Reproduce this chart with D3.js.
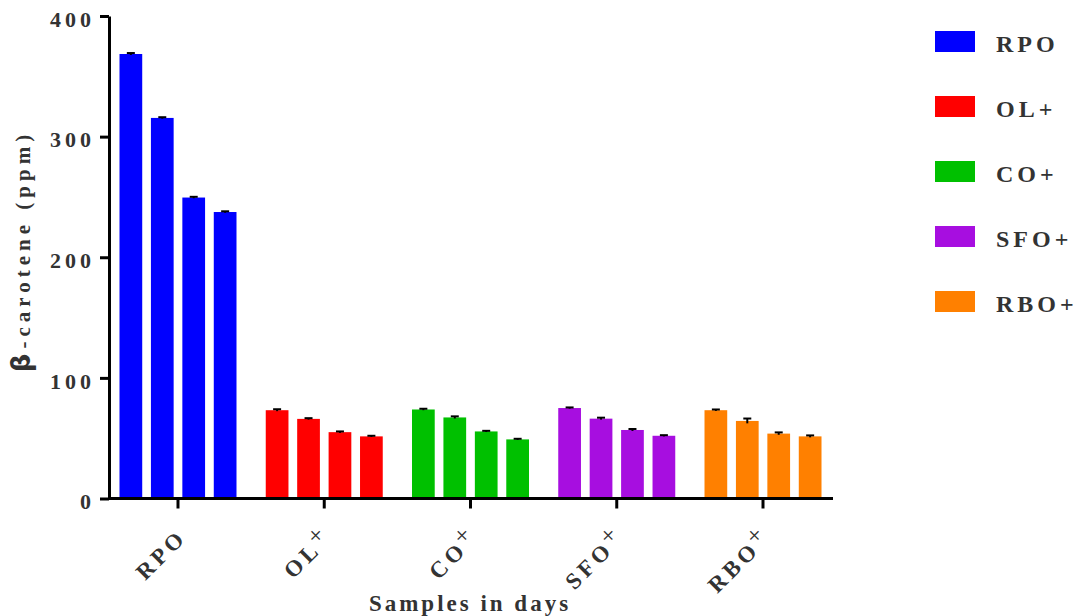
<!DOCTYPE html>
<html>
<head>
<meta charset="utf-8">
<script src="https://cdn.jsdelivr.net/npm/d3@7"></script>
<style>
  html, body { margin: 0; padding: 0; background: #fff; }
  svg { display: block; }
  text { font-family: "Liberation Serif", "Times New Roman", serif; font-weight: bold; fill: #333; }
</style>
</head>
<body>
<svg id="chart" width="1080" height="616"></svg>
<script>
// Oil samples (groups) and their colours
const groups = ["RPO", "OL+", "CO+", "SFO+", "RBO+"];
const groupColors = ["#0000ff", "#ff0000", "#00c000", "#a70ee0", "#ff8000"];

// Storage points within each group (bars left to right)
const days = [0, 1, 2, 3];

// β-carotene means (ppm) for each group, per storage point
const rpoValues = [368.5, 315.5, 249.5, 237.5];
const olValues  = [73.2, 66.0, 55.0, 51.5];
const coValues  = [73.8, 67.2, 55.6, 49.0];
const sfoValues = [75.0, 66.2, 56.8, 52.0];
const rboValues = [73.2, 64.3, 53.8, 51.5];

// Error (± ppm) for each bar
const rpoErr = [0.8, 0.6, 0.6, 0.6];
const olErr  = [0.8, 0.6, 0.6, 0.5];
const coErr  = [0.6, 0.9, 0.5, 0.5];
const sfoErr = [0.5, 0.8, 0.8, 0.5];
const rboErr = [0.6, 2.0, 1.0, 0.8];

// Axis ticks
const yTicks = [0, 100, 200, 300, 400];

const valueSets = [rpoValues, olValues, coValues, sfoValues, rboValues];
const errSets = [rpoErr, olErr, coErr, sfoErr, rboErr];

const rows = [];
groups.forEach((g, gi) => {
  days.forEach((d, di) => {
    rows.push({ group: g, day: d, value: valueSets[gi][di], err: errSets[gi][di], color: groupColors[gi] });
  });
});

const svg = d3.select("#chart");

const axisX = 109;     // y-axis position
const plotRight = 833;
const y = d3.scaleLinear().domain([0, 400]).range([498.5, 16]);

const x0 = d3.scaleBand().domain(groups).range([108, plotRight]).paddingInner(0.2).paddingOuter(0.0786);
const x1 = d3.scaleBand().domain(days).range([0, x0.bandwidth()]).paddingInner(0.277).paddingOuter(0);

// Bars
const barG = svg.append("g");
barG.selectAll("rect")
  .data(rows)
  .join("rect")
  .attr("x", d => x0(d.group) + x1(d.day))
  .attr("y", d => y(d.value))
  .attr("width", x1.bandwidth())
  .attr("height", d => y(0) - y(d.value))
  .attr("fill", d => d.color);

// Error bars (upper whisker with cap)
const errG = svg.append("g").attr("stroke", "#000").attr("stroke-width", 2);
rows.forEach(d => {
  const cx = x0(d.group) + x1(d.day) + x1.bandwidth() / 2;
  errG.append("line")
    .attr("x1", cx).attr("x2", cx)
    .attr("y1", y(d.value - d.err)).attr("y2", y(d.value + d.err));
  errG.append("line")
    .attr("x1", cx - 4).attr("x2", cx + 4)
    .attr("y1", y(d.value + d.err)).attr("y2", y(d.value + d.err));
});

// X axis
const xAxis = svg.append("g")
  .attr("transform", `translate(0,${y(0)})`)
  .call(d3.axisBottom(x0).tickSize(10).tickSizeOuter(0));
xAxis.select(".domain").attr("d", `M${axisX},0H${plotRight}`).attr("stroke", "#000").attr("stroke-width", 3);
xAxis.selectAll(".tick line").attr("stroke", "#000").attr("stroke-width", 3);
xAxis.selectAll(".tick text").remove();
xAxis.selectAll(".tick").each(function (g) {
  const t = d3.select(this).append("text")
    .attr("text-anchor", "end")
    .attr("transform", "translate(10,40) rotate(-45)")
    .style("font-size", "23px")
    .style("letter-spacing", "4px")
    .attr("fill", "#333");
  const base = g.replace("+", "");
  t.append("tspan").text(base);
  if (g.endsWith("+")) {
    t.append("tspan")
      .attr("dy", -7)
      .attr("dx", -1)
      .style("font-weight", "normal")
      .style("font-size", "25px")
      .text("+");
  }
});

// Y axis
const yAxis = svg.append("g")
  .attr("transform", `translate(${axisX},0)`)
  .call(d3.axisLeft(y).tickValues(yTicks).tickSize(9).tickSizeOuter(0).tickPadding(5));
yAxis.select(".domain").attr("stroke", "#000").attr("stroke-width", 3);
yAxis.selectAll(".tick line").attr("stroke", "#000").attr("stroke-width", 3);
yAxis.selectAll(".tick text")
  .attr("dy", "0.47em")
  .attr("fill", "#333")
  .style("font-size", "22px")
  .style("letter-spacing", "4px");

// Axis titles
const yTitle = svg.append("text")
  .attr("transform", "translate(30,251) rotate(-90)")
  .attr("text-anchor", "middle")
  .style("font-size", "21px")
  .style("letter-spacing", "5px");
yTitle.append("tspan").style("font-size", "26px").style("font-family", "DejaVu Sans").text("β");
yTitle.append("tspan").text("-carotene (ppm)");

svg.append("text")
  .attr("x", 470)
  .attr("y", 611)
  .attr("text-anchor", "middle")
  .style("font-size", "23px")
  .style("letter-spacing", "3px")
  .text("Samples in days");

// Legend
const legend = svg.append("g").attr("transform", "translate(935,31)");
const item = legend.selectAll("g")
  .data(groups)
  .join("g")
  .attr("transform", (d, i) => `translate(0,${i * 65})`);
item.append("rect")
  .attr("width", 40)
  .attr("height", 21)
  .attr("fill", (d, i) => groupColors[i]);
item.append("text")
  .attr("x", 61)
  .attr("y", 21)
  .style("font-size", "24px")
  .style("letter-spacing", "4px")
  .text(d => d);
</script>
</body>
</html>
